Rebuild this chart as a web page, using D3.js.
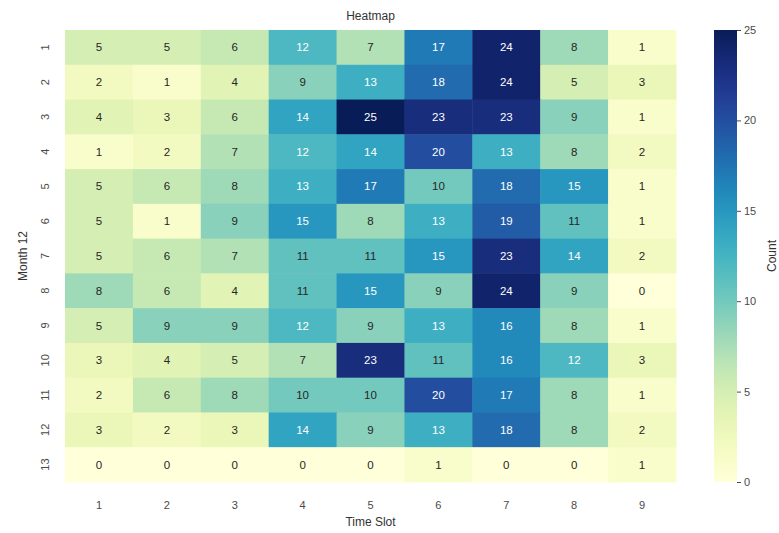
<!DOCTYPE html>
<html>
<head>
<meta charset="utf-8">
<script src="https://cdn.jsdelivr.net/npm/d3@7"></script>
<style>
  html, body { margin: 0; padding: 0; background: #fff; }
  svg { display: block; font-family: "Liberation Sans", Arial, sans-serif; }
</style>
</head>
<body>
<svg id="chart" width="779" height="533"></svg>
<script>
// Counts per month (rows) and time slot (columns)
const months = ["1","2","3","4","5","6","7","8","9","10","11","12","13"];
const timeSlots = ["1","2","3","4","5","6","7","8","9"];
const counts = [
  [5, 5, 6, 12, 7, 17, 24, 8, 1],
  [2, 1, 4, 9, 13, 18, 24, 5, 3],
  [4, 3, 6, 14, 25, 23, 23, 9, 1],
  [1, 2, 7, 12, 14, 20, 13, 8, 2],
  [5, 6, 8, 13, 17, 10, 18, 15, 1],
  [5, 1, 9, 15, 8, 13, 19, 11, 1],
  [5, 6, 7, 11, 11, 15, 23, 14, 2],
  [8, 6, 4, 11, 15, 9, 24, 9, 0],
  [5, 9, 9, 12, 9, 13, 16, 8, 1],
  [3, 4, 5, 7, 23, 11, 16, 12, 3],
  [2, 6, 8, 10, 10, 20, 17, 8, 1],
  [3, 2, 3, 14, 9, 13, 18, 8, 2],
  [0, 0, 0, 0, 0, 1, 0, 0, 1]
];
const colorbarTicks = [0, 5, 10, 15, 20, 25];

const svg = d3.select("#chart");
const plot = { left: 65, top: 30, right: 676, bottom: 482 };
const bar = { left: 714, width: 23 };
const textGray = "#4a4a4a";

const x = d3.scaleBand().domain(timeSlots).range([plot.left, plot.right]);
const y = d3.scaleBand().domain(months).range([plot.top, plot.bottom]);
const color = d3.scaleSequential(d3.interpolateYlGnBu).domain([0, 25]);

// relative luminance decides light or dark annotation text
function luminance(c) {
  const rgb = d3.rgb(c);
  const lin = v => { v /= 255; return v <= 0.03928 ? v / 12.92 : Math.pow((v + 0.055) / 1.055, 2.4); };
  return 0.2126 * lin(rgb.r) + 0.7152 * lin(rgb.g) + 0.0722 * lin(rgb.b);
}
// light text once the fill is darker than the mid-scale cyan
const lumCut = (luminance(color(11)) + luminance(color(12))) / 2;

const cells = [];
counts.forEach((row, i) => row.forEach((v, j) => cells.push({ m: months[i], t: timeSlots[j], v })));

svg.append("g").selectAll("rect").data(cells).join("rect")
  .attr("x", d => x(d.t))
  .attr("y", d => y(d.m))
  .attr("width", x.bandwidth() + 0.5)
  .attr("height", y.bandwidth() + 0.5)
  .attr("fill", d => color(d.v));

svg.append("g").selectAll("text").data(cells).join("text")
  .attr("x", d => x(d.t) + x.bandwidth() / 2)
  .attr("y", d => y(d.m) + y.bandwidth() / 2)
  .attr("text-anchor", "middle")
  .attr("dominant-baseline", "central")
  .attr("font-size", 11.5)
  .attr("fill", d => luminance(color(d.v)) > lumCut ? "#262626" : "#ffffff")
  .text(d => d.v);

// x axis
const xAxis = svg.append("g")
  .attr("transform", `translate(0,${plot.bottom})`)
  .call(d3.axisBottom(x).tickSize(0).tickPadding(19));
xAxis.select(".domain").remove();
xAxis.selectAll("text").attr("font-size", 11).attr("fill", textGray).attr("font-family", "Liberation Sans, Arial, sans-serif");

// y axis with vertical labels
const yAxis = svg.append("g")
  .attr("transform", `translate(${plot.left},0)`)
  .call(d3.axisLeft(y).tickSize(0).tickPadding(0));
yAxis.select(".domain").remove();
yAxis.selectAll(".tick text")
  .attr("font-size", 11).attr("fill", textGray)
  .attr("font-family", "Liberation Sans, Arial, sans-serif")
  .attr("text-anchor", "middle")
  .attr("dy", null)
  .attr("x", 0)
  .attr("transform", "translate(-20,0) rotate(-90)")
  .attr("dominant-baseline", "central");

// titles
svg.append("text").attr("x", (plot.left + plot.right) / 2).attr("y", 20)
  .attr("text-anchor", "middle").attr("font-size", 12).attr("fill", "#333").text("Heatmap");
svg.append("text").attr("x", (plot.left + plot.right) / 2).attr("y", 526)
  .attr("text-anchor", "middle").attr("font-size", 12).attr("fill", "#333").text("Time Slot");
svg.append("text")
  .attr("transform", `translate(27,${(plot.top + plot.bottom) / 2}) rotate(-90)`)
  .attr("text-anchor", "middle").attr("font-size", 12).attr("fill", "#333").text("Month 12");

// colorbar
const cb = d3.scaleLinear().domain([0, 25]).range([plot.bottom, plot.top]);
const defs = svg.append("defs");
const grad = defs.append("linearGradient").attr("id", "cbGrad")
  .attr("x1", 0).attr("y1", 1).attr("x2", 0).attr("y2", 0);
d3.range(0, 1.0001, 0.05).forEach(t => {
  grad.append("stop").attr("offset", t).attr("stop-color", color(t * 25));
});
svg.append("rect")
  .attr("x", bar.left).attr("y", plot.top)
  .attr("width", bar.width).attr("height", plot.bottom - plot.top)
  .attr("fill", "url(#cbGrad)");

const cbAxis = svg.append("g")
  .attr("transform", `translate(${bar.left + bar.width},0)`)
  .call(d3.axisRight(cb).tickValues(colorbarTicks).tickSize(4).tickPadding(3));
cbAxis.select(".domain").remove();
cbAxis.selectAll("line").attr("stroke", textGray);
cbAxis.selectAll("text").attr("font-size", 11).attr("fill", textGray)
  .attr("font-family", "Liberation Sans, Arial, sans-serif");

svg.append("text")
  .attr("transform", `translate(776,${(plot.top + plot.bottom) / 2}) rotate(-90)`)
  .attr("text-anchor", "middle").attr("font-size", 12).attr("fill", "#333").text("Count");
</script>
</body>
</html>
